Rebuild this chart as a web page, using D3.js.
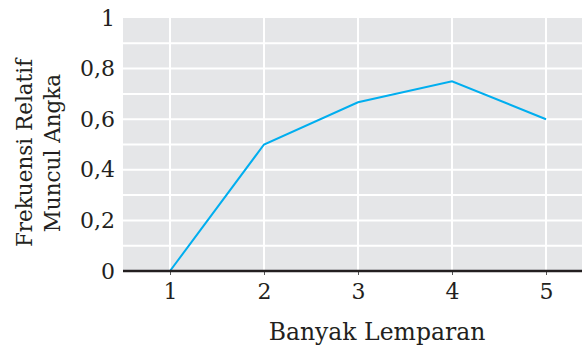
<!DOCTYPE html>
<html>
<head>
<meta charset="utf-8">
<script src="https://cdn.jsdelivr.net/npm/d3@7"></script>
<style>
  body { margin: 0; background: #fff; }
  svg text { font-family: "DejaVu Serif", serif; fill: #231f20; }
</style>
</head>
<body>
<svg id="chart" width="582" height="349"></svg>
<script>
// Relative frequency of "angka" by number of throws
const throwsCount = [1, 2, 3, 4, 5];
const relFreq = [0, 0.5, 0.667, 0.75, 0.6];
const yTickValues = [0, 0.2, 0.4, 0.6, 0.8, 1];
const yTickLabels = ["0", "0,2", "0,4", "0,6", "0,8", "1"];
const yGridValues = [0.1, 0.2, 0.3, 0.4, 0.5, 0.6, 0.7, 0.8, 0.9];

const svg = d3.select("#chart");
const plot = { left: 123, right: 582, top: 18, bottom: 271 };

const x = d3.scaleLinear().domain([1, 5]).range([170, 546]);
const y = d3.scaleLinear().domain([0, 1]).range([plot.bottom, plot.top]);

// background panel
svg.append("rect")
  .attr("x", plot.left).attr("y", plot.top)
  .attr("width", plot.right - plot.left).attr("height", plot.bottom - plot.top)
  .attr("fill", "#e5e6e8");

// grid
svg.append("g").selectAll("line").data(yGridValues).join("line")
  .attr("x1", plot.left).attr("x2", plot.right)
  .attr("y1", d => y(d)).attr("y2", d => y(d))
  .attr("stroke", "#fff").attr("stroke-width", 2);
svg.append("g").selectAll("line").data(throwsCount).join("line")
  .attr("x1", d => x(d)).attr("x2", d => x(d))
  .attr("y1", plot.top).attr("y2", plot.bottom)
  .attr("stroke", "#fff").attr("stroke-width", 2);

// data line
const line = d3.line().x((d, i) => x(throwsCount[i])).y(d => y(d));
svg.append("path").datum(relFreq)
  .attr("d", line)
  .attr("fill", "none").attr("stroke", "#00aeef").attr("stroke-width", 2);

// x axis
const xAxis = d3.axisBottom(x).tickValues(throwsCount).tickSize(4).tickPadding(8)
  .tickFormat(d3.format("d"));
const gx = svg.append("g").attr("transform", `translate(0,${plot.bottom})`).call(xAxis);
gx.select(".domain").remove();
gx.selectAll(".tick line").attr("stroke", "#555").attr("stroke-width", 1);
gx.selectAll("text").attr("font-size", 22).style("font-family", null);
svg.append("line")
  .attr("x1", plot.left).attr("x2", plot.right)
  .attr("y1", plot.bottom).attr("y2", plot.bottom)
  .attr("stroke", "#231f20").attr("stroke-width", 2.5);

// y axis labels
const yAxis = d3.axisLeft(y).tickValues(yTickValues).tickSize(0).tickPadding(8)
  .tickFormat((d, i) => yTickLabels[i]);
const gy = svg.append("g").attr("transform", `translate(${plot.left},0)`).call(yAxis);
gy.select(".domain").remove();
gy.selectAll("text").attr("font-size", 22).style("font-family", null);

// axis titles
svg.append("text")
  .attr("x", 377).attr("y", 340)
  .attr("text-anchor", "middle").attr("font-size", 23.5)
  .text("Banyak Lemparan");

const yTitle = svg.append("text")
  .attr("transform", "translate(0,153) rotate(-90)")
  .attr("text-anchor", "middle").attr("font-size", 21.5);
yTitle.append("tspan").attr("x", 0).attr("y", 32).text("Frekuensi Relatif");
yTitle.append("tspan").attr("x", 0).attr("y", 60).text("Muncul Angka");
</script>
</body>
</html>
